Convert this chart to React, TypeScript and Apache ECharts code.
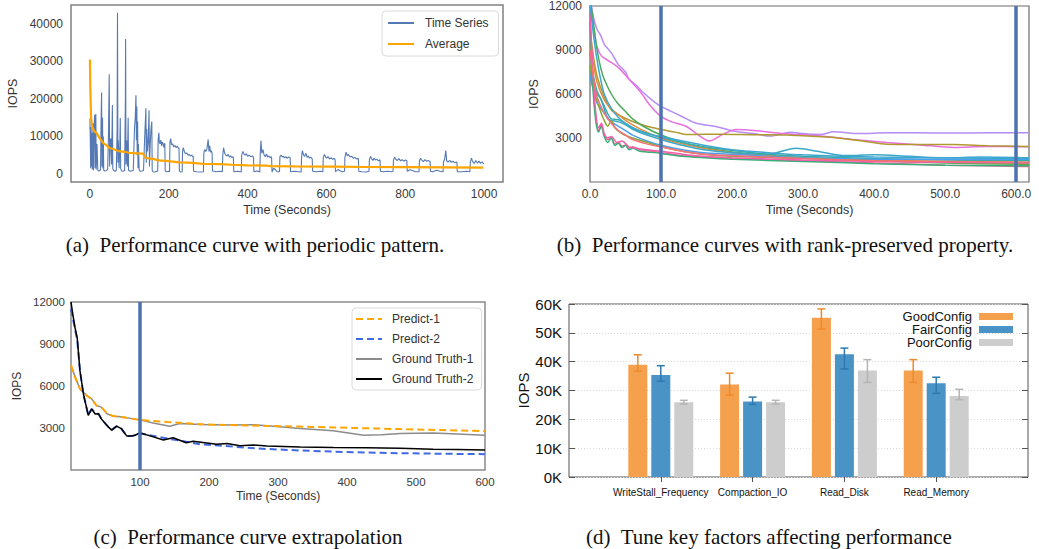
import React, { useEffect, useRef } from "react";
import * as echarts from "echarts";

// ---------- (a) periodic time series ----------
const tsData: [number, number][] = [
  [0, 14800], [1, 9000], [2, 1500], [3, 12500], [4, 2000], [5, 11000], [6, 1200], [8, 13500], [9, 1000], [10, 10500],
  [12, 15800], [13, 1500], [14, 9000], [15, 16000], [16, 1200], [18, 8000], [20, 1000], [22, 800], [25, 900], [27, 1200],
  [28, 12000], [29.6, 21700], [30.5, 2000], [31, 9000], [32, 15000], [33, 1500], [34, 10000], [35, 1000], [38, 800], [42, 900],
  [45, 1200], [47, 10000], [49, 26600], [50, 2000], [51, 8000], [53, 9500], [55, 2500], [57, 18400], [58, 1500], [60, 900],
  [64, 700], [67, 900], [69, 12000], [70, 43000], [71, 3000], [72, 9000], [74, 1500], [76, 8000], [77, 14900], [78, 1500],
  [80, 800], [84, 700], [88, 900], [90, 20000], [90.5, 36000], [91.5, 2500], [93, 9000], [95, 2000], [97, 15000], [98, 1000],
  [102, 700], [106, 800], [110, 900], [113, 12000], [115, 15000], [116.8, 21000], [118, 9000], [119, 18000], [120, 5000], [121, 14000],
  [122, 1500], [123, 8000], [125, 1000], [128, 700], [132, 800], [136, 900], [139, 10000], [141, 15000], [142, 17500], [143, 3000],
  [144, 12000], [146, 6000], [148, 9000], [150, 17000], [151, 2000], [153, 8000], [155, 12000], [157, 14000], [158, 1000], [160, 600],
  [165, 500], [170, 700],
  [172, 700], [173, 9000], [175, 11000], [176, 8500], [178, 8000], [180, 9000], [182, 7500], [184, 8500], [186, 8000], [188, 7000], [190, 8200], [191, 800], [195, 600], [200, 700], [202, 600],
  [203, 8500], [205, 9400], [207, 7800], [210, 8000], [213, 7200], [216, 7600], [219, 7000], [222, 7400], [225, 6800], [226, 7000], [227, 800], [230, 500], [234, 600],
  [235, 6000], [237, 7000], [240, 5800], [243, 5400], [246, 5600], [249, 5000], [252, 5200], [255, 4800], [258, 5000], [261, 4600], [262, 4800], [263, 700], [270, 600], [280, 500], [288, 600],
  [289, 5500], [291, 6500], [294, 6000], [297, 6800], [300, 9200], [302, 6000], [304, 7500], [306, 5800], [308, 6200], [310, 5500], [311, 800], [320, 600], [330, 700], [336, 600],
  [337, 5000], [339, 7000], [342, 5500], [345, 5000], [348, 4800], [351, 5200], [354, 4500], [357, 4800], [360, 4400], [363, 4600], [364, 4200], [365, 600], [375, 700], [384, 500],
  [385, 5000], [388, 6000], [391, 5300], [394, 5000], [397, 5400], [400, 4700], [404, 5000], [408, 4600], [412, 4800], [415, 4400], [416, 600], [425, 800], [431, 500],
  [432, 5000], [434, 8900], [436, 5500], [439, 6500], [442, 5000], [445, 4600], [448, 5300], [451, 4500], [454, 4800], [457, 4300], [460, 4600], [461, 4200], [462, 500], [466, 1500], [470, 1200], [475, 600], [481, 600],
  [482, 4600], [485, 5000], [488, 4500], [491, 4700], [494, 4300], [497, 4600], [500, 4200], [504, 4500], [508, 4300], [509, 600], [520, 700], [530, 600], [536, 500],
  [537, 4500], [539, 6200], [542, 5000], [545, 4700], [548, 5500], [551, 4400], [554, 4800], [557, 4200], [560, 4500], [564, 4000], [565, 700], [575, 600], [585, 700], [591, 600],
  [592, 4300], [595, 5200], [598, 4500], [601, 4200], [604, 4600], [608, 4000], [612, 4300], [616, 3900], [620, 4200], [622, 3800], [623, 600], [630, 1200], [635, 800], [640, 600], [646, 700],
  [647, 4500], [650, 5800], [653, 4800], [656, 5200], [660, 4500], [664, 4700], [668, 4200], [672, 4400], [676, 4000], [681, 4200], [682, 700], [690, 600], [700, 500], [708, 700],
  [709, 3800], [712, 4700], [715, 4000], [718, 3600], [721, 4200], [724, 3700], [728, 3900], [732, 3500], [736, 3800], [737, 700], [745, 600], [755, 700], [765, 600], [769, 700],
  [770, 3600], [773, 4500], [776, 3900], [780, 3600], [784, 4100], [788, 3500], [792, 3800], [796, 3400], [800, 3700], [804, 3500], [805, 700], [812, 1100], [818, 900], [825, 600], [835, 600],
  [836, 3400], [839, 4200], [842, 3700], [846, 3300], [850, 3800], [854, 3400], [858, 3600], [863, 3300], [864, 700], [870, 600], [880, 1000], [888, 700], [896, 600],
  [897, 3200], [900, 4000], [903, 6200], [905, 3500], [909, 3200], [913, 3600], [917, 3100], [921, 3400], [925, 3000], [931, 3200], [932, 600], [945, 600], [955, 700], [964, 600],
  [965, 3000], [968, 4200], [971, 3300], [975, 2800], [979, 3600], [983, 2900], [987, 3400], [991, 2800], [995, 3200], [999, 2700],
];

const avgData: [number, number][] = [
  [0, 30500], [1, 23000], [3, 15000], [5, 13000], [10, 11500], [17, 10900], [25, 9500], [34, 8200], [40, 7800], [50, 6900],
  [60, 6600], [76, 6000], [90, 5900], [100, 5600], [118, 5500], [135, 5400], [141, 4300], [160, 4000], [175, 3600], [200, 3400],
  [226, 3100], [250, 3000], [287, 2700], [330, 2600], [360, 2450], [400, 2300], [449, 2200], [460, 2050], [520, 2000], [617, 1950],
  [700, 1850], [800, 1800], [900, 1750], [998, 1700],
];

// ---------- (b) rank-preserved curves ----------
const curve1: [number, number][] = [[0, 12800], [5, 11200], [10, 10400], [15, 10000], [20, 9400], [30, 8800], [40, 8000], [50, 7500], [55, 7000], [65, 6600], [75, 6100], [87, 5600], [100, 5150], [115, 4800], [130, 4450], [150, 4000], [175, 3800], [200, 3500], [230, 3300], [254, 3130], [282, 3400], [300, 3300], [324, 3240], [343, 3420], [380, 3300], [418, 3350], [460, 3350], [512, 3340], [560, 3350], [618, 3350]];
const curve2: [number, number][] = [[0, 12500], [5, 10500], [10, 9200], [16, 8600], [25, 8300], [40, 7800], [55, 7000], [70, 6200], [85, 5200], [100, 4470], [115, 4100], [135, 3800], [150, 3300], [168, 2800], [185, 3200], [206, 3580], [239, 3470], [270, 3300], [324, 3130], [370, 2900], [418, 2690], [465, 2530], [512, 2360], [559, 2420], [618, 2400]];
const curve3: [number, number][] = [[0, 10350], [5, 8500], [10, 7200], [20, 5800], [30, 4900], [43, 4500], [60, 4130], [80, 3800], [100, 3580], [120, 3400], [135, 3240], [160, 3250], [183, 3250], [230, 3220], [277, 3200], [320, 3100], [347, 3020], [390, 2750], [418, 2580], [460, 2560], [512, 2550], [560, 2480], [618, 2420]];
const curve4: [number, number][] = [[0, 12500], [5, 10800], [10, 9000], [15, 7800], [20, 7000], [30, 6000], [40, 5300], [50, 4800], [60, 4300], [75, 3800], [100, 3200], [130, 2700], [160, 2350], [200, 2050], [250, 1800], [300, 1650], [400, 1450], [500, 1300], [618, 1200]];
const curve5: [number, number][] = [[0, 9500], [5, 8000], [10, 6800], [20, 5600], [30, 5000], [40, 4600], [50, 4200], [60, 3900], [80, 3400], [100, 3000], [130, 2600], [160, 2300], [200, 2000], [250, 1800], [300, 1650], [400, 1500], [500, 1400], [618, 1300]];
const curve6: [number, number][] = [[0, 7600], [5, 6500], [10, 6000], [15, 5700], [20, 5000], [25, 4300], [30, 4200], [40, 4100], [50, 3900], [60, 3600], [80, 3200], [100, 2900], [130, 2500], [160, 2200], [200, 2000], [250, 1900], [290, 2300], [320, 2100], [360, 1800], [400, 1850], [450, 1750], [500, 1650], [550, 1700], [618, 1650]];
const curve7: [number, number][] = [[0, 8800], [5, 7200], [10, 6200], [20, 5200], [30, 4300], [40, 4250], [50, 4000], [60, 3700], [75, 3400], [100, 3050], [130, 2700], [160, 2400], [200, 2150], [250, 1900], [300, 1750], [400, 1600], [500, 1500], [618, 1450]];
const curve8: [number, number][] = [[0, 7200], [5, 6200], [10, 5400], [20, 4700], [30, 4100], [40, 3800], [50, 3500], [60, 3200], [80, 2800], [100, 2500], [130, 2200], [160, 2000], [200, 1900], [250, 1750], [300, 1650], [400, 1550], [500, 1550], [618, 1550]];
const curve9: [number, number][] = [[0, 8000], [5, 6500], [10, 5500], [15, 4800], [20, 4200], [25, 3800], [30, 4200], [35, 3700], [45, 3300], [60, 3000], [80, 2700], [100, 2400], [130, 2100], [160, 1900], [200, 1750], [300, 1600], [400, 1450], [500, 1350], [618, 1250]];
const curve10: [number, number][] = [[0, 12000], [4, 7000], [8, 4500], [12, 3500], [16, 3900], [20, 3200], [25, 2900], [30, 3000], [35, 2600], [40, 2700], [45, 2450], [50, 2500], [55, 2300], [60, 2400], [70, 2200], [80, 2150], [100, 2000], [130, 1800], [160, 1700], [200, 1600], [300, 1450], [400, 1300], [500, 1150], [618, 1050]];
const curve11: [number, number][] = [[0, 11000], [4, 6500], [8, 4200], [12, 3400], [16, 3800], [20, 3100], [25, 2700], [30, 3000], [35, 2500], [40, 2650], [45, 2350], [50, 2500], [55, 2200], [60, 2300], [70, 2100], [80, 2050], [100, 1950], [130, 1750], [160, 1650], [200, 1550], [300, 1400], [400, 1250], [500, 1150], [618, 1100]];
const curve12: [number, number][] = [[0, 11500], [4, 7500], [8, 4800], [12, 3700], [16, 4000], [20, 3300], [25, 3000], [30, 3100], [38, 2700], [45, 2800], [55, 2400], [65, 2300], [80, 2200], [100, 2100], [130, 1900], [160, 1750], [200, 1650], [300, 1500], [400, 1400], [500, 1350], [618, 1300]];
const curve13: [number, number][] = [[0, 9000], [5, 7000], [10, 5800], [20, 4700], [30, 4000], [40, 3500], [50, 3200], [60, 2900], [80, 2600], [100, 2400], [130, 2100], [160, 1900], [200, 1800], [300, 1600], [400, 1450], [500, 1400], [618, 1350]];
const curve14: [number, number][] = [[0, 12200], [5, 10000], [10, 8300], [15, 7000], [20, 6000], [30, 5000], [40, 4400], [50, 4000], [60, 3700], [80, 3300], [100, 3100], [130, 2800], [160, 2500], [200, 2200], [250, 2000], [300, 1850], [400, 1700], [500, 1650], [618, 1600]];
const rankCurves = [curve1, curve2, curve3, curve4, curve5, curve6, curve7, curve8, curve9, curve10, curve11, curve12, curve13, curve14];
const rankColors = ["#b68cf5", "#e96ee2", "#b0992e", "#4aab5a", "#e58a3c", "#39a8c7", "#36ada4", "#4a9ff0", "#86a832", "#f26b8e", "#3aae7a", "#f45fb0", "#f6707a", "#3fa6d0"];
const cutLines = [100, 600];

// ---------- (c) extrapolation ----------
const predict1: [number, number][] = [[0, 7500], [6, 6600], [13, 5800], [23, 5300], [30, 5050], [37, 4600], [44, 4500], [52, 4050], [61, 3850], [73, 3780], [88, 3670], [100, 3580], [140, 3420], [187, 3270], [240, 3200], [284, 3150], [330, 3100], [380, 3040], [430, 2980], [477, 2920], [540, 2850], [600, 2780]];
const predict2: [number, number][] = [[0, 11500], [6, 10000], [9, 9300], [13, 7100], [18, 5400], [25, 3950], [30, 4350], [35, 4100], [40, 4000], [44, 3650], [54, 3080], [59, 2870], [66, 3120], [73, 2950], [81, 2430], [88, 2420], [93, 2500], [100, 2610], [140, 2250], [187, 1840], [240, 1650], [284, 1500], [330, 1400], [380, 1310], [430, 1250], [477, 1200], [540, 1160], [600, 1130]];
const truth1: [number, number][] = [[0, 7430], [6, 6670], [13, 5790], [23, 5320], [30, 5080], [37, 4610], [44, 4490], [52, 4020], [61, 3840], [73, 3800], [88, 3670], [100, 3580], [119, 3360], [143, 3130], [158, 3320], [187, 3250], [235, 3220], [264, 3240], [293, 3130], [332, 2960], [380, 2800], [424, 2490], [450, 2520], [477, 2610], [525, 2640], [560, 2580], [600, 2490]];
const truth2: [number, number][] = [[0, 12000], [3, 11000], [6, 10140], [9, 9440], [13, 7080], [18, 5430], [25, 3900], [30, 4370], [35, 4000], [40, 4010], [44, 3650], [54, 3080], [59, 2850], [66, 3130], [73, 2950], [81, 2420], [88, 2420], [93, 2480], [100, 2660], [117, 2400], [134, 2140], [148, 2300], [167, 1950], [177, 2060], [211, 1840], [226, 1900], [245, 1740], [264, 1790], [284, 1720], [332, 1650], [380, 1600], [428, 1590], [477, 1550], [525, 1480], [560, 1460], [600, 1430]];

// ---------- (d) bar chart ----------
const factorNames = ["WriteStall_Frequency", "Compaction_IO", "Read_Disk", "Read_Memory"];
const goodVals = [38900, 32100, 55200, 36900];
const goodLow = [36700, 28400, 51300, 32800];
const goodHigh = [42400, 36000, 58300, 40700];
const fairVals = [35400, 26200, 42600, 32500];
const fairLow = [33200, 25200, 37500, 29000];
const fairHigh = [38600, 27700, 44700, 34600];
const poorVals = [25900, 25900, 36900, 28100];
const poorLow = [25300, 25300, 32800, 26800];
const poorHigh = [26600, 26600, 40700, 30400];

const SANS = "'Liberation Sans', Arial, Helvetica, sans-serif";
const SERIF = "'Liberation Serif', 'DejaVu Serif', serif";

function App() {
  const ref = useRef<HTMLDivElement>(null);
  useEffect(() => {
    if (!ref.current) return;
    const chart = echarts.init(ref.current, undefined, { renderer: "svg" });

    const plain = (v: number) => String(v);
    const tickLabel = (extra: any = {}) => ({ fontSize: 12, color: "#3a3a3a", fontFamily: SANS, formatter: plain, ...extra });
    const axName = { fontSize: 12.5, color: "#333", fontFamily: SANS };
    const noAxis = { axisLine: { show: false }, axisTick: { show: false }, splitLine: { show: false } };

    const catData = ["", ...factorNames, ""];
    const padded = (arr: number[]) => ["-", ...arr, "-"];
    const errData = (lo: number[], hi: number[]) => lo.map((l, i) => [i + 1, l, hi[i]]);
    const errSeries = (name: string, lo: number[], hi: number[], color: string, offset: number) => ({
      type: "custom",
      name,
      xAxisIndex: 3,
      yAxisIndex: 3,
      z: 5,
      encode: { x: 0, y: [1, 2] },
      data: errData(lo, hi),
      renderItem: (params: any, api: any) => {
        const x = api.value(0);
        const p1 = api.coord([x, api.value(1)]);
        const p2 = api.coord([x, api.value(2)]);
        const cx = p1[0] + offset;
        const st = { stroke: color, lineWidth: 1.5 };
        return {
          type: "group",
          children: [
            { type: "line", shape: { x1: cx, y1: p1[1], x2: cx, y2: p2[1] }, style: st },
            { type: "line", shape: { x1: cx - 4, y1: p1[1], x2: cx + 4, y2: p1[1] }, style: st },
            { type: "line", shape: { x1: cx - 4, y1: p2[1], x2: cx + 4, y2: p2[1] }, style: st },
          ],
        };
      },
    });

    const rankSeries = rankCurves.map((c, i) => ({
      type: "line",
      name: "curve-" + (i + 1),
      xAxisIndex: 1,
      yAxisIndex: 1,
      data: c,
      smooth: 0.3,
      symbol: "none",
      lineStyle: { width: 1.5, color: rankColors[i] },
      itemStyle: { color: rankColors[i] },
      z: 2,
      ...(i === rankCurves.length - 1
        ? {
            markLine: {
              silent: true,
              symbol: ["none", "none"],
              label: { show: false },
              lineStyle: { color: "#4c72b0", width: 3.5, type: "solid" },
              data: cutLines.map((v) => ({ xAxis: v })),
            },
          }
        : {}),
    }));

    const captionFont = `21px ${SERIF}`;

    const option: any = {
      animation: false,
      textStyle: { fontFamily: SANS },
      grid: [
        { left: 71, top: 5, width: 432, height: 177, show: true, borderColor: "#808080", borderWidth: 1.5, backgroundColor: "transparent" },
        { left: 590, top: 1, width: 439, height: 181, show: true, borderColor: "#6b6b6b", borderWidth: 1.2, backgroundColor: "transparent" },
        { left: 71, top: 302, width: 414, height: 168, show: true, borderColor: "#8a8a8a", borderWidth: 1.5, backgroundColor: "transparent" },
        { left: 569, top: 304, width: 459, height: 173, show: true, borderColor: "#555", borderWidth: 1, backgroundColor: "transparent" },
      ],
      xAxis: [
        {
          gridIndex: 0, type: "value", min: -48, max: 1048, ...noAxis,
          axisLabel: tickLabel({ customValues: [0, 200, 400, 600, 800, 1000], margin: 6 }),
          name: "Time (Seconds)", nameLocation: "middle", nameGap: 21, nameTextStyle: axName,
        },
        {
          gridIndex: 1, type: "value", min: 0, max: 618, ...noAxis,
          axisLabel: tickLabel({ customValues: [0, 100, 200, 300, 400, 500, 600], margin: 6, formatter: (v: number) => v.toFixed(1) }),
          name: "Time (Seconds)", nameLocation: "middle", nameGap: 21, nameTextStyle: axName,
        },
        {
          gridIndex: 2, type: "value", min: 0, max: 600, ...noAxis,
          axisLabel: tickLabel({ customValues: [100, 200, 300, 400, 500, 600], margin: 6, fontSize: 11.5 }),
          name: "Time (Seconds)", nameLocation: "middle", nameGap: 20, nameTextStyle: { ...axName, fontSize: 12 },
        },
        {
          gridIndex: 3, type: "category", data: catData, boundaryGap: false,
          axisLine: { show: false }, axisTick: { show: false }, splitLine: { show: false },
          axisLabel: { fontSize: 10, color: "#111", margin: 10, fontFamily: SANS, interval: 0 },
        },
        {
          gridIndex: 3, type: "category", data: catData, boundaryGap: false, position: "top",
          axisLine: { show: false }, splitLine: { show: false },
          axisTick: { show: true, inside: true, length: 5, lineStyle: { color: "#555" }, interval: (i: number) => i > 0 && i < catData.length - 1 },
          axisLabel: { show: false },
        },
      ],
      yAxis: [
        {
          gridIndex: 0, type: "value", min: -2150, max: 45050, ...noAxis,
          axisLabel: tickLabel({ customValues: [0, 10000, 20000, 30000, 40000], margin: 8 }),
          name: "IOPS", nameLocation: "middle", nameGap: 52, nameRotate: 90, nameTextStyle: axName,
        },
        {
          gridIndex: 1, type: "value", min: 0, max: 12000, ...noAxis,
          axisLabel: tickLabel({ customValues: [3000, 6000, 9000, 12000], margin: 8 }),
          name: "IOPS", nameLocation: "middle", nameGap: 50, nameRotate: 90, nameTextStyle: axName,
        },
        {
          gridIndex: 2, type: "value", min: 0, max: 12000, ...noAxis,
          axisLabel: tickLabel({ customValues: [3000, 6000, 9000, 12000], margin: 6, fontSize: 11.5 }),
          name: "IOPS", nameLocation: "middle", nameGap: 48, nameRotate: 90, nameTextStyle: { ...axName, fontSize: 12 },
        },
        {
          gridIndex: 3, type: "value", min: 0, max: 60000, interval: 10000,
          axisLine: { show: false },
          axisTick: { show: true, inside: true, length: 6, lineStyle: { color: "#555" } },
          splitLine: { show: true, lineStyle: { color: "#d8d8d8", type: [1, 2], width: 1 } },
          axisLabel: { fontSize: 15, color: "#111", margin: 7, fontFamily: SANS, formatter: (v: number) => v / 1000 + "K" },
          name: "IOPS", nameLocation: "middle", nameGap: 36, nameRotate: 90, nameTextStyle: { fontSize: 15, color: "#111", fontFamily: SANS },
        },
        {
          gridIndex: 3, type: "value", min: 0, max: 60000, interval: 10000, position: "right",
          axisLine: { show: false }, splitLine: { show: false }, axisLabel: { show: false },
          axisTick: { show: true, inside: true, length: 6, lineStyle: { color: "#555" } },
        },
      ],
      legend: [
        {
          data: ["Time Series", "Average"], orient: "vertical", left: 382, top: 11,
          padding: [6, 10, 6, 5], itemGap: 9, itemWidth: 26, itemHeight: 10,
          borderColor: "#dadada", borderWidth: 1, borderRadius: 4, selectedMode: false,
          itemStyle: { opacity: 0 },
          textStyle: { fontSize: 12, color: "#333", fontFamily: SANS, padding: [0, 0, 0, 6] },
        },
        {
          data: ["Predict-1", "Predict-2", "Ground Truth-1", "Ground Truth-2"], orient: "vertical", left: 352, top: 308,
          padding: [5, 8, 5, 3], itemGap: 8, itemWidth: 26, itemHeight: 10,
          borderColor: "#dadada", borderWidth: 1, borderRadius: 4, selectedMode: false,
          itemStyle: { opacity: 0 },
          textStyle: { fontSize: 12, color: "#333", fontFamily: SANS, padding: [0, 0, 0, 5] },
        },
        ...[["GoodConfig", 310], ["FairConfig", 323], ["PoorConfig", 336]].map(([n, t]) => ({
          data: [{ name: n, icon: "rect" }], right: 26, top: t, align: "right", padding: 0,
          itemWidth: 34, itemHeight: 7, selectedMode: false,
          textStyle: { fontSize: 13, color: "#111", fontFamily: SANS, padding: [0, 2, 0, 0] },
        })),
      ],
      graphic: [
        { type: "text", x: 255, y: 245, style: { text: "(a)  Performance curve with periodic pattern.", font: captionFont, fill: "#111", textAlign: "center", textVerticalAlign: "middle" } },
        { type: "text", x: 785, y: 245, style: { text: "(b)  Performance curves with rank-preserved property.", font: captionFont, fill: "#111", textAlign: "center", textVerticalAlign: "middle" } },
        { type: "text", x: 248, y: 537, style: { text: "(c)  Performance curve extrapolation", font: captionFont, fill: "#111", textAlign: "center", textVerticalAlign: "middle" } },
        { type: "text", x: 769, y: 537, style: { text: "(d)  Tune key factors affecting performance", font: captionFont, fill: "#111", textAlign: "center", textVerticalAlign: "middle" } },
      ],
      series: [
        {
          type: "line", name: "Time Series", xAxisIndex: 0, yAxisIndex: 0, data: tsData, symbol: "none",
          lineStyle: { width: 1.1, color: "#4c72b0", opacity: 0.95 }, itemStyle: { color: "#4c72b0" }, z: 2,
        },
        {
          type: "line", name: "Average", xAxisIndex: 0, yAxisIndex: 0, data: avgData, symbol: "none",
          lineStyle: { width: 2.2, color: "#ffa500" }, itemStyle: { color: "#ffa500" }, z: 3,
        },
        ...rankSeries,
        {
          type: "line", name: "Ground Truth-1", xAxisIndex: 2, yAxisIndex: 2, data: truth1, symbol: "none",
          lineStyle: { width: 1.5, color: "#8c8c8c" }, itemStyle: { color: "#8c8c8c" }, z: 2,
        },
        {
          type: "line", name: "Predict-1", xAxisIndex: 2, yAxisIndex: 2, data: predict1, symbol: "none",
          lineStyle: { width: 2, color: "#ffa500", type: [7, 4] }, itemStyle: { color: "#ffa500" }, z: 3,
        },
        {
          type: "line", name: "Predict-2", xAxisIndex: 2, yAxisIndex: 2, data: predict2, symbol: "none",
          lineStyle: { width: 2, color: "#4169e1", type: [7, 4] }, itemStyle: { color: "#4169e1" }, z: 3,
        },
        {
          type: "line", name: "Ground Truth-2", xAxisIndex: 2, yAxisIndex: 2, data: truth2, symbol: "none",
          lineStyle: { width: 1.5, color: "#000" }, itemStyle: { color: "#000" }, z: 4,
          markLine: {
            silent: true, symbol: ["none", "none"], label: { show: false },
            lineStyle: { color: "#4c72b0", width: 3.5, type: "solid" },
            data: [{ xAxis: cutLines[0] }],
          },
        },
        {
          type: "bar", name: "GoodConfig", xAxisIndex: 3, yAxisIndex: 3, data: padded(goodVals),
          barWidth: 19, barGap: "21%", itemStyle: { color: "#f5a04c" },
        },
        {
          type: "bar", name: "FairConfig", xAxisIndex: 3, yAxisIndex: 3, data: padded(fairVals),
          barWidth: 19, barGap: "21%", itemStyle: { color: "#4a93c7" },
        },
        {
          type: "bar", name: "PoorConfig", xAxisIndex: 3, yAxisIndex: 3, data: padded(poorVals),
          barWidth: 19, barGap: "21%", itemStyle: { color: "#cdcdcd" },
        },
        errSeries("GoodConfig error", goodLow, goodHigh, "#ef8a2c", -23),
        errSeries("FairConfig error", fairLow, fairHigh, "#2f78b0", 0),
        errSeries("PoorConfig error", poorLow, poorHigh, "#b5b5b5", 23),
      ],
    };

    chart.setOption(option);
    return () => chart.dispose();
  }, []);

  return <div ref={ref} style={{ position: "fixed", left: 0, top: 0, width: 1039, height: 549, background: "#fff" }} />;
}

export default App;
